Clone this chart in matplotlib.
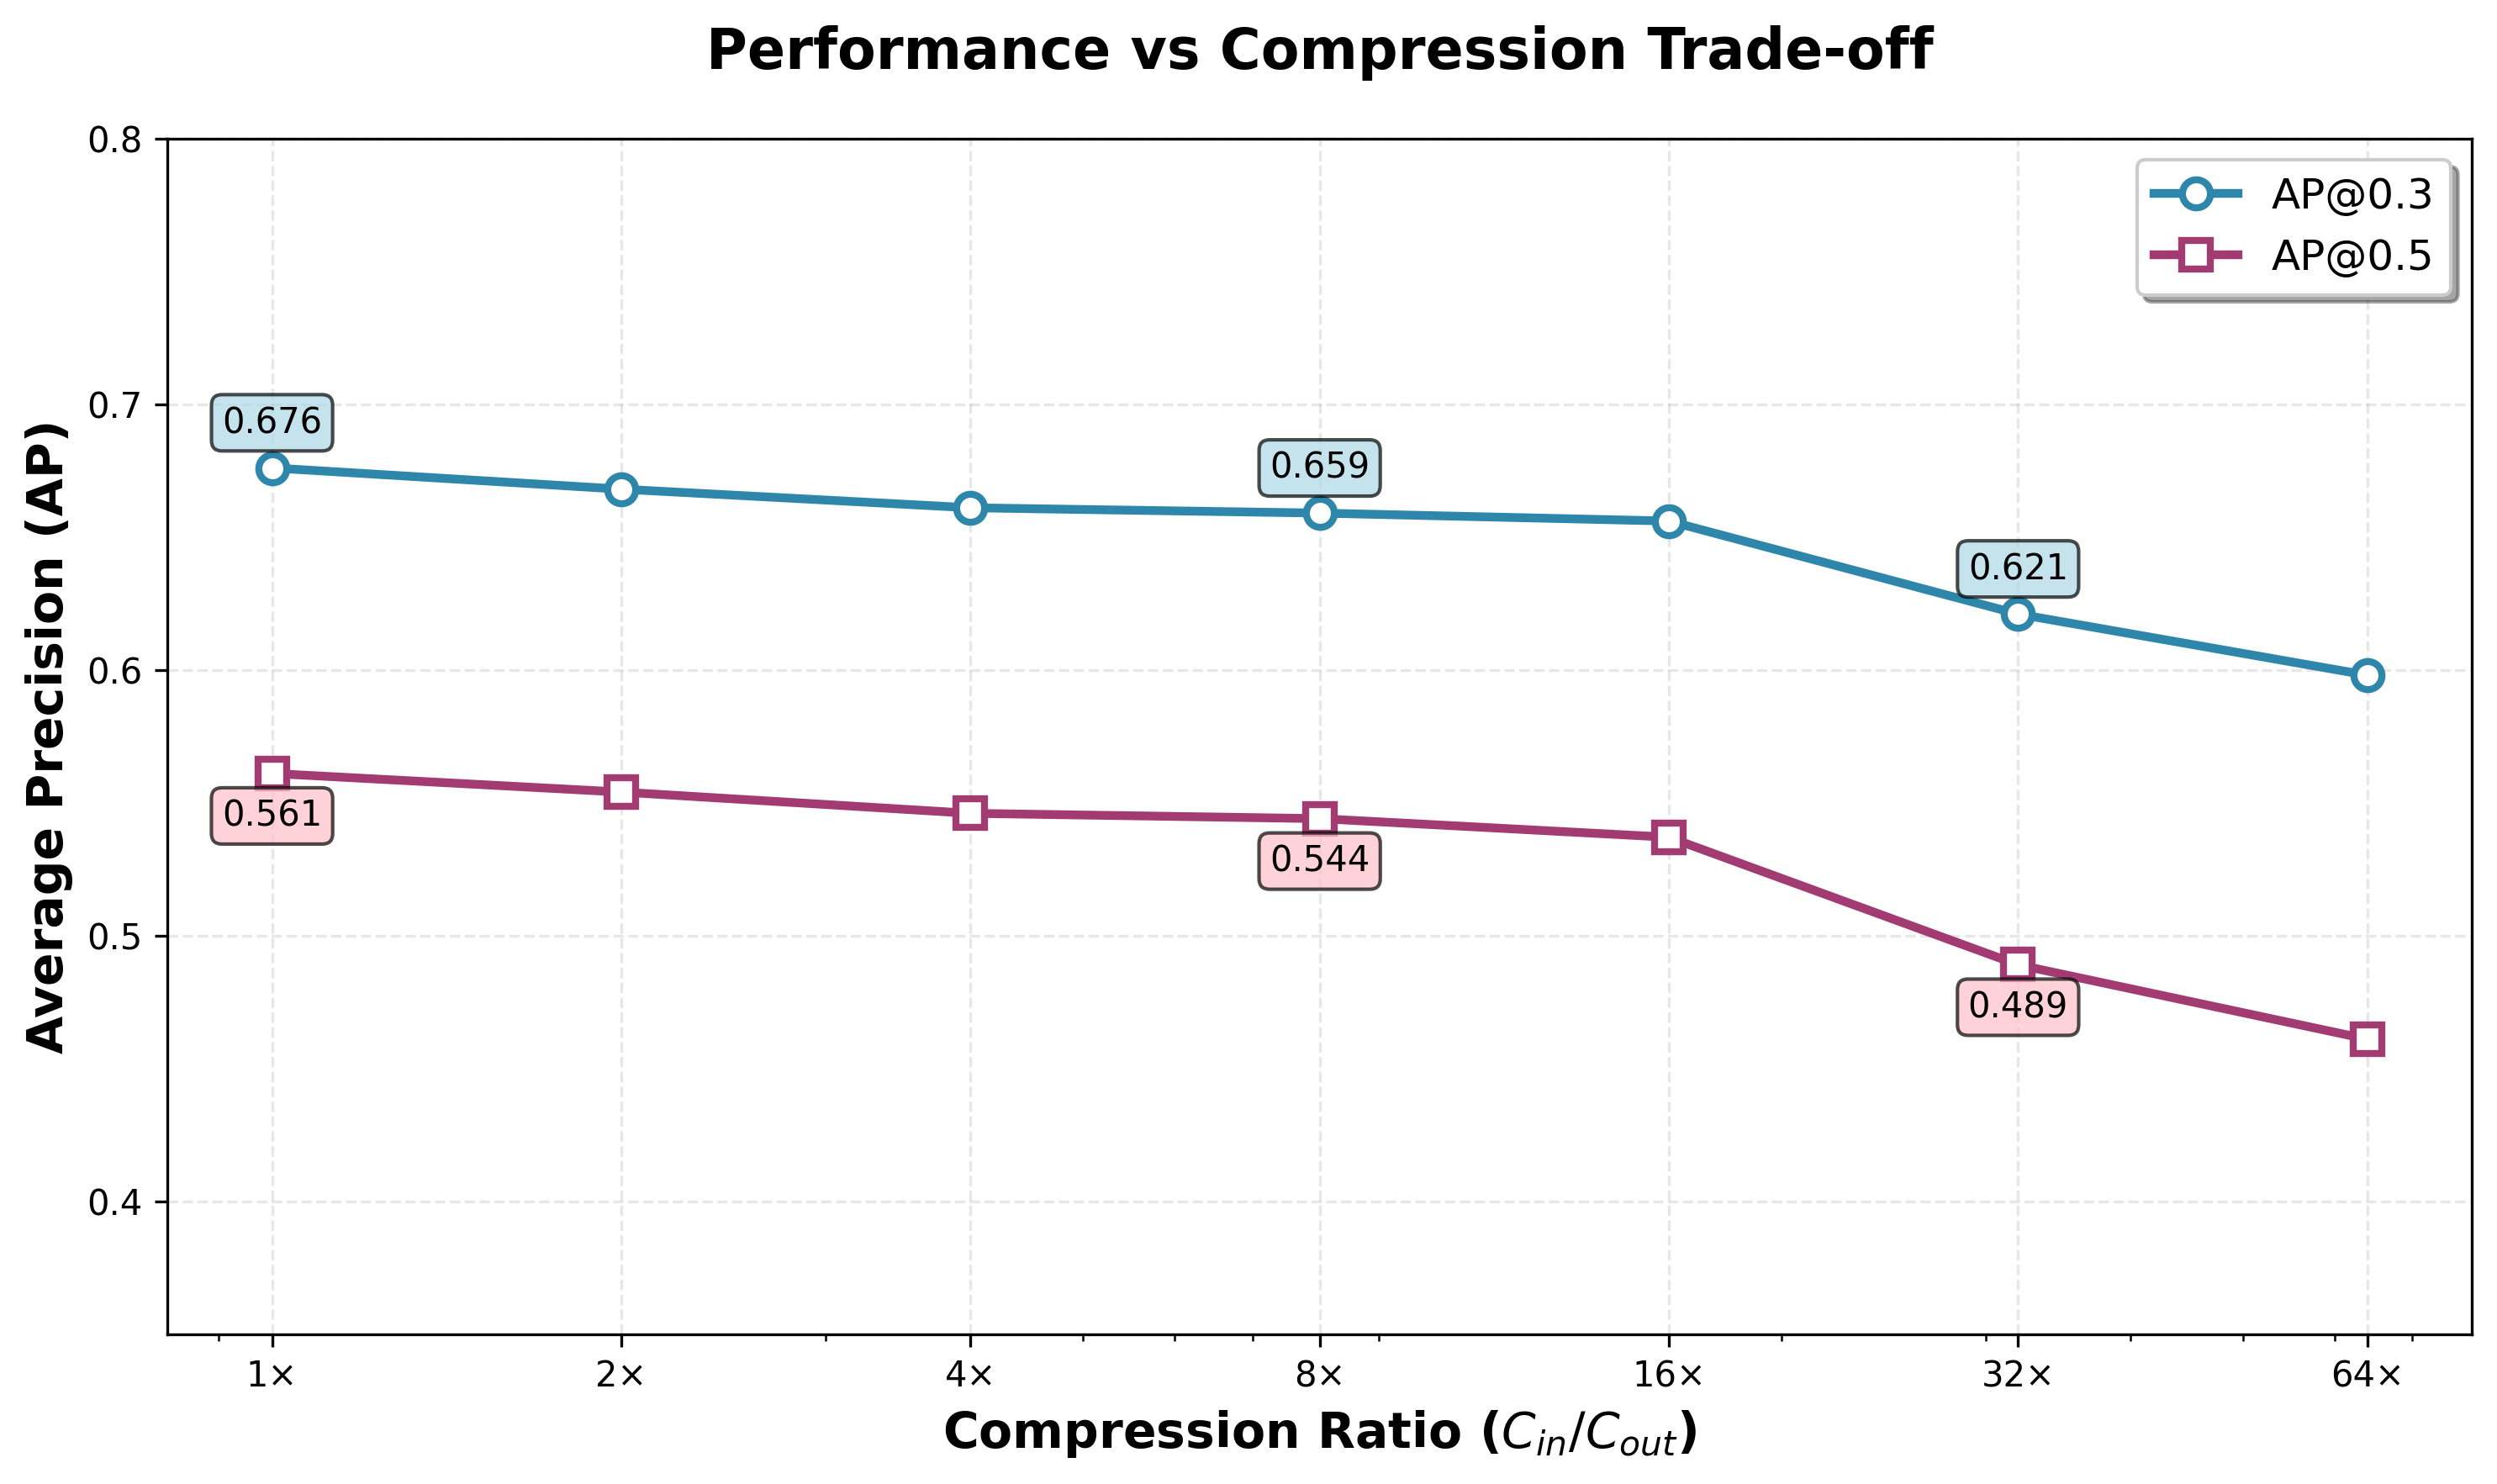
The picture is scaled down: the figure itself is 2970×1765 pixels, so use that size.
import matplotlib
matplotlib.use("Agg")
import matplotlib.pyplot as plt

ratios = [1, 2, 4, 8, 16, 32, 64]
tick_labels = ["1×", "2×", "4×", "8×", "16×", "32×", "64×"]
ap03 = [0.676, 0.668, 0.661, 0.659, 0.656, 0.621, 0.598]
ap05 = [0.561, 0.554, 0.546, 0.544, 0.537, 0.489, 0.461]
annot_idx = [0, 3, 5]

c03 = "#2E86AB"
c05 = "#A23B72"

fig, ax = plt.subplots(figsize=(2970 / 300, 1765.4 / 300), dpi=300)
fig.subplots_adjust(left=0.067, right=0.99, top=0.9065, bottom=0.101)

ax.plot(ratios, ap03, "-o", color=c03, lw=2.5, ms=8, mfc="white", mew=2, label="AP@0.3")
ax.plot(ratios, ap05, "-s", color=c05, lw=2.5, ms=8, mfc="white", mew=2, label="AP@0.5")
ax.set_xscale("log")
ax.set_xticks(ratios)
ax.set_xticklabels(tick_labels)
ax.set_ylim(0.35, 0.8)
ax.set_yticks([0.4, 0.5, 0.6, 0.7, 0.8])

for i in annot_idx:
    ax.annotate(f"{ap03[i]:.3f}", (ratios[i], ap03[i]), xytext=(0, 10), textcoords="offset points",
                ha="center", fontsize=10,
                bbox=dict(boxstyle="round,pad=0.3", facecolor="lightblue", edgecolor="black", alpha=0.7))
    ax.annotate(f"{ap05[i]:.3f}", (ratios[i], ap05[i]), xytext=(0, -15), textcoords="offset points",
                ha="center", fontsize=10,
                bbox=dict(boxstyle="round,pad=0.3", facecolor="pink", edgecolor="black", alpha=0.7))

ax.grid(True, which="major", linestyle="--", alpha=0.3)
ax.set_xlabel(r"Compression Ratio ($C_{in}/C_{out}$)", fontsize=14, fontweight="bold")
ax.set_ylabel("Average Precision (AP)", fontsize=14, fontweight="bold")
ax.set_title("Performance vs Compression Trade-off", fontsize=16, fontweight="bold", pad=20)
ax.legend(loc="upper right", fontsize=12, frameon=True, fancybox=True, shadow=True)

fig.savefig("out.png", dpi=300)
